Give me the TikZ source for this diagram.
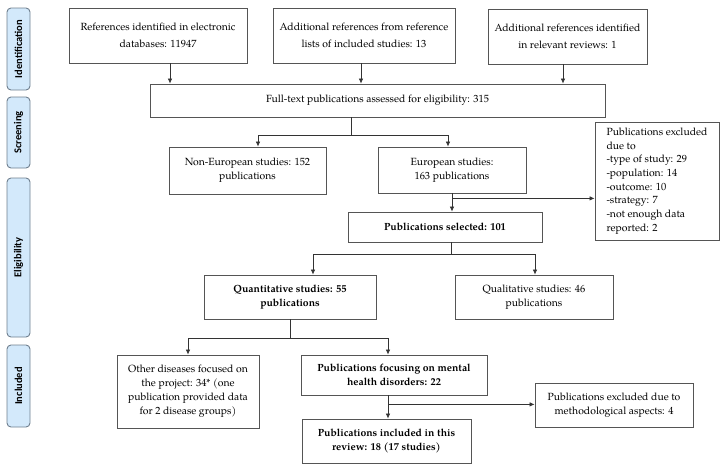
\documentclass[tikz,border=0pt]{standalone}
\usepackage{fontspec}
\setmainfont{TeX Gyre Pagella}
\newfontfamily\sidefont{Carlito}
\usetikzlibrary{arrows.meta,calc}
\definecolor{sidefill}{HTML}{D3E9FB}
\definecolor{sideline}{HTML}{6F7F8F}
\definecolor{boxline}{HTML}{555555}
\tikzset{
  x=1pt,y=-1pt,
  box/.style={draw=boxline,line width=0.8pt,align=center,inner sep=2pt,font=\fontsize{10.4}{14}\selectfont},
  topbox/.style={box,font=\fontsize{10.4}{17}\selectfont},
  bbox/.style={box,font=\fontsize{10.4}{14}\selectfont\bfseries},
  side/.style={draw=sideline,fill=sidefill,rounded corners=4pt,line width=0.9pt,font=\sidefont\bfseries\fontsize{10.5}{12}\selectfont,rotate=90,inner sep=0pt},
  arr/.style={draw=black!80,line width=0.7pt,-{Latex[length=5pt,width=4.5pt]}},
  ln/.style={draw=black!80,line width=0.7pt},
}
\begin{document}
\begin{tikzpicture}
\useasboundingbox (0,0) rectangle (726,469);
% side labels
\node[side,minimum width=82pt,minimum height=23pt] (sid) at (18.5,49) {Identification};
\node[side,minimum width=71pt,minimum height=23pt] (sscr) at (18.5,132.5) {Screening};
\node[side,minimum width=159pt,minimum height=23pt] (selig) at (18.5,257.5) {Eligibility};
\node[side,minimum width=82pt,minimum height=23pt] (sinc) at (18.5,386) {Included};
% boxes
\node[topbox,minimum width=178pt,minimum height=55pt] (refs) at (158,35.5) {References identified in electronic\\databases: 11947};
\node[topbox,minimum width=182pt,minimum height=55pt] (addl) at (364,35.5) {Additional references from reference\\lists of included studies: 13};
\node[topbox,minimum width=159pt,minimum height=55pt] (revs) at (567.5,36.5) {Additional references identified\\in relevant reviews: 1};
\node[box,minimum width=455pt,minimum height=33pt] (full) at (377.5,100.5) {Full-text publications assessed for eligibility: 315};
\node[box,minimum width=157pt,minimum height=47pt] (noneu) at (247.5,170.5) {Non-European studies: 152\\publications};
\node[box,minimum width=148pt,minimum height=46pt] (eu) at (452,170) {European studies:\\163 publications};
\node[box,minimum width=124pt,minimum height=118pt,align=left,font=\fontsize{10.4}{13.7}\selectfont] (excl) at (657,181) {Publications excluded\\due to\\-type of study: 29\\-population: 14\\-outcome: 10\\-strategy: 7\\-not enough data\\reported: 2};
\node[bbox,minimum width=194pt,minimum height=30pt] (sel) at (445,227) {Publications selected: 101};
\node[bbox,minimum width=172pt,minimum height=44pt] (quant) at (290,297) {Quantitative studies: 55\\publications};
\node[box,minimum width=158pt,minimum height=44pt] (qual) at (534,297) {Qualitative studies: 46\\publications};
\node[box,minimum width=142pt,minimum height=73pt] (other) at (188,391.5) {Other diseases focused on\\the project: 34* (one\\publication provided data\\for 2 disease groups)};
\node[bbox,minimum width=186pt,minimum height=40pt] (mental) at (394,375) {Publications focusing on mental\\health disorders: 22};
\node[box,minimum width=158pt,minimum height=44pt] (meth) at (614,405) {Publications excluded due to\\methodological aspects: 4};
\node[bbox,minimum width=169pt,minimum height=44pt] (incl) at (386.5,441) {Publications included in this\\review: 18 (17 studies)};
% connectors: identification
\draw[arr] ([xshift=12pt]refs.south) -- ([xshift=12pt]refs.south |- full.north);
\draw[arr] ([xshift=-3pt]addl.south) -- ([xshift=-3pt]addl.south |- full.north);
\draw[arr] ([xshift=-4.5pt]revs.south) -- ([xshift=-4.5pt]revs.south |- full.north);
% screening split
\coordinate (s0) at ([xshift=-26.5pt]full.south);
\coordinate (s1) at ($(s0)+(0,18)$);
\coordinate (s1l) at ($(s1 -| noneu.north)+(10.5,0)$);
\coordinate (s1r) at ($(s1 -| eu.north)+(-4,0)$);
\draw[ln] (s0) -- (s1);
\draw[ln] (s1l) -- (s1r);
\draw[arr] (s1l) -- (s1l |- noneu.north);
\draw[arr] (s1r) -- (s1r |- eu.north);
% european -> excluded / selected
\coordinate (e1) at ($(eu.south)+(0,5)$);
\draw[arr] (eu.south) -- (eu.south |- sel.north);
\draw[arr] (e1) -- (e1 -| excl.west);
% selected split
\coordinate (p0) at ([xshift=6pt]sel.south);
\coordinate (p1) at ($(p0)+(0,12)$);
\coordinate (p1l) at ($(p1 -| quant.north)+(23,0)$);
\coordinate (p1r) at ($(p1 -| qual.north)+(1,0)$);
\draw[ln] (p0) -- (p1);
\draw[ln] (p1l) -- (p1r);
\draw[arr] (p1l) -- (p1l |- quant.north);
\draw[arr] (p1r) -- (p1r |- qual.north);
% quantitative split
\coordinate (q1) at ($(quant.south)+(0,19)$);
\coordinate (q1l) at (q1 -| other.north);
\coordinate (q1r) at ($(q1 -| mental.north)+(-6,0)$);
\draw[ln] (quant.south) -- (q1);
\draw[ln] (q1l) -- (q1r);
\draw[arr] (q1l) -- (other.north);
\draw[arr] (q1r) -- (q1r |- mental.north);
% mental -> included / excluded
\coordinate (m0) at ([xshift=-6pt]mental.south);
\coordinate (m1) at ($(m0)+(0,9)$);
\draw[arr] (m0) -- (m0 |- incl.north);
\draw[arr] (m1) -- (m1 -| meth.west);
\end{tikzpicture}
\end{document}
